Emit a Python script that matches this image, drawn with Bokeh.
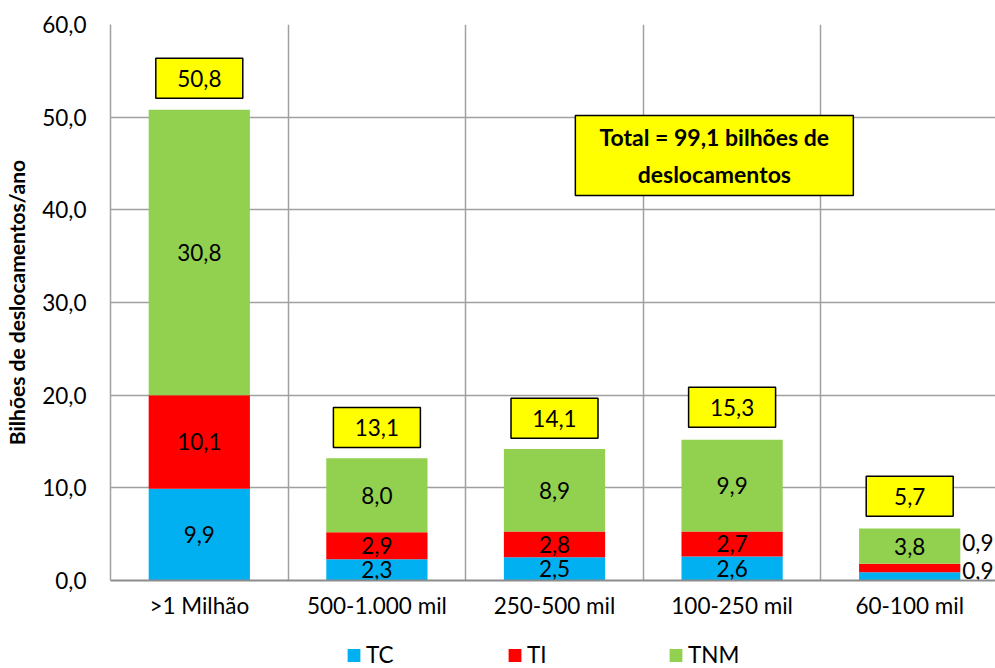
from bokeh.plotting import figure
from bokeh.layouts import column
from bokeh.models import FixedTicker, Legend, LegendItem, Range1d
from bokeh.core.properties import value
from bokeh.embed import file_html
from bokeh.resources import INLINE
import numpy as np

# ---- data ----
categories = [">1 Milhão", "500-1.000 mil", "250-500 mil", "100-250 mil", "60-100 mil"]
tc = [9.9, 2.3, 2.5, 2.6, 0.9]
ti = [10.1, 2.9, 2.8, 2.7, 0.9]
tnm = [30.8, 8.0, 8.9, 9.9, 3.8]
totals = [50.8, 13.1, 14.1, 15.3, 5.7]
series_names = ["TC", "TI", "TNM"]
y_ticks = [0, 10, 20, 30, 40, 50, 60]
y_tick_labels = ["0,0", "10,0", "20,0", "30,0", "40,0", "50,0", "60,0"]
total_note = "Total = 99,1 bilhões de\ndeslocamentos"
y_title = "Bilhões de deslocamentos/ano"

# ---- style ----
colors = ["#00B0F0", "#FF0000", "#92D050"]
FONT = "Lato"
FS = "22.5px"
GRID = "#a0a0a0"


def fmt(v):
    return f"{v:.1f}".replace(".", ",")


xc = np.arange(len(categories)) + 0.5
bar_w = 0.57

p = figure(width=995, height=640,
           x_range=Range1d(0, 885 / 177.6), y_range=Range1d(0, 60),
           output_backend="svg", toolbar_location=None,
           min_border_left=110, min_border_right=0,
           min_border_top=24, min_border_bottom=60)
p.outline_line_color = None

# grids
p.xgrid.ticker = FixedTicker(ticks=list(range(len(categories) + 1)))
p.ygrid.ticker = FixedTicker(ticks=y_ticks)
for g in (p.xgrid, p.ygrid):
    g.grid_line_color = GRID
    g.grid_line_width = 1.5

# axes
p.yaxis.ticker = FixedTicker(ticks=y_ticks)
p.yaxis.major_label_overrides = {t: l for t, l in zip(y_ticks, y_tick_labels)}
p.xaxis.ticker = FixedTicker(ticks=list(xc))
p.xaxis.major_label_overrides = {float(v): c for v, c in zip(xc, categories)}
for ax in (p.xaxis, p.yaxis):
    ax.major_tick_line_color = None
    ax.minor_tick_line_color = None
    ax.major_tick_out = 0
    ax.major_tick_in = 0
    ax.minor_tick_out = 0
    ax.major_label_text_font = FONT
    ax.major_label_text_font_size = FS
    ax.major_label_text_color = "black"
p.yaxis.axis_line_color = GRID
p.yaxis.axis_line_width = 1.5
p.xaxis.axis_line_color = "#8c8c8c"
p.xaxis.axis_line_width = 2
p.yaxis.major_label_standoff = 24
p.xaxis.major_label_standoff = 11
p.yaxis.axis_label = y_title
p.yaxis.axis_label_text_font = FONT
p.yaxis.axis_label_text_font_style = "bold"
p.yaxis.axis_label_text_font_size = "21px"
p.yaxis.axis_label_text_color = "black"
p.yaxis.axis_label_standoff = 10

# stacked bars
series = [tc, ti, tnm]
bottom = np.zeros(len(categories))
lab_x, lab_y, lab_t = [], [], []
out_x, out_y, out_t, out_off = [], [], [], []
for k, vals in enumerate(series):
    vals = np.array(vals)
    top = bottom + vals
    p.vbar(x=xc, bottom=bottom, top=top, width=bar_w,
           fill_color=colors[k], line_color=None)
    for i, v in enumerate(vals):
        mid = (bottom[i] + top[i]) / 2
        if v < 1.5:
            out_x.append(xc[i] + bar_w / 2)
            out_y.append(mid)
            out_t.append(fmt(v))
            out_off.append(-6 if k == 0 else -25)
        else:
            lab_x.append(xc[i])
            lab_y.append(mid)
            lab_t.append(fmt(v))
    bottom = top

p.text(x=lab_x, y=lab_y, text=lab_t, text_align="center", text_baseline="middle",
       text_font=value(FONT), text_font_size=FS, text_color="black")
p.text(x=out_x, y=out_y, text=out_t, y_offset=out_off, x_offset=2,
       text_align="left", text_baseline="middle",
       text_font=value(FONT), text_font_size=FS, text_color="black")

# total boxes
box_y = [t + 3.4 for t in totals]
p.rect(x=xc, y=box_y, width=87, height=40, width_units="screen", height_units="screen",
       fill_color="#FFFF00", line_color="black", line_width=1.5)
p.text(x=xc, y=box_y, text=[fmt(t) for t in totals], text_align="center",
       text_baseline="middle", text_font=value(FONT), text_font_size=FS,
       text_color="black")

# total note
p.rect(x=[3.40], y=[45.85], width=278, height=80, width_units="screen",
       height_units="screen", fill_color="#FFFF00", line_color="black", line_width=1.5)
p.text(x=[3.40], y=[45.85], text=[total_note], text_align="center",
       text_baseline="middle", text_font=value(FONT), text_font_style="bold",
       text_font_size="23px", text_line_height=1.3, text_color="black")

# legend strip (separate small figure under the chart); proxy bars have zero height
pl = figure(width=995, height=28, x_range=Range1d(0, 1), y_range=Range1d(0, 1),
            x_axis_type=None, y_axis_type=None,
            output_backend="svg", toolbar_location=None,
            min_border_left=110, min_border_right=0, min_border_top=0, min_border_bottom=0)
pl.outline_line_color = None
pl.grid.visible = False
pl.background_fill_color = None
pl.border_fill_color = None
leg_renderers = [pl.vbar(x=[0.5], bottom=[0], top=[0], width=0.1, fill_color=c, line_color=None)
                 for c in colors]
legend = Legend(items=[LegendItem(label=n, renderers=[r]) for n, r in zip(series_names, leg_renderers)],
                orientation="horizontal", location="bottom_center", spacing=68, label_width=72,
                glyph_width=16, glyph_height=16, label_standoff=5, padding=0, margin=0,
                border_line_color=None, background_fill_alpha=0,
                label_text_font=FONT, label_text_font_size=FS, label_text_color="black")
pl.add_layout(legend, "center")

layout = column(p, pl, spacing=0)
open("out.html", "w").write(file_html(layout, INLINE))
